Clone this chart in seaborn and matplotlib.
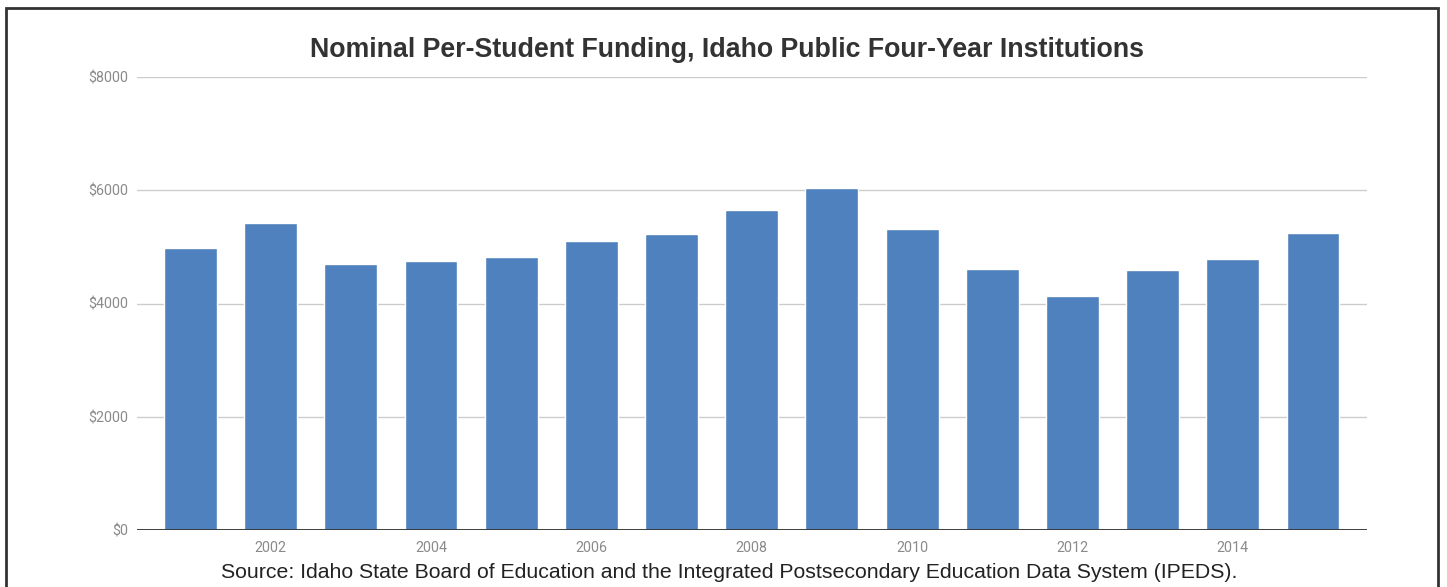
import matplotlib
matplotlib.use("Agg")
import matplotlib.pyplot as plt
import seaborn as sns
import pandas as pd
from matplotlib.patches import Rectangle

years = [str(y) for y in range(2001, 2016)]
funding = [4980, 5420, 4700, 4750, 4820, 5100, 5225, 5650, 6035, 5320, 4610, 4130, 4595, 4780, 5245]
y_ticks = [0, 2000, 4000, 6000, 8000]
y_labels = ["$0", "$2000", "$4000", "$6000", "$8000"]
title = "Nominal Per-Student Funding, Idaho Public Four-Year Institutions"
source = "Source: Idaho State Board of Education and the Integrated Postsecondary Education Data System (IPEDS)."

df = pd.DataFrame({"year": years, "funding": funding})

sns.set_theme(style="white")
plt.rcParams['font.family'] = ['Roboto', 'DejaVu Sans']

fig = plt.figure(figsize=(14.47, 5.87), dpi=100)
ax = fig.add_axes([137/1447, 57/587, 1230/1447, 453/587])

sns.barplot(data=df, x="year", y="funding", order=years, color="#4e81bd",
            saturation=1, width=0.66, ax=ax, zorder=3)

ax.set_ylim(0, 8000)
ax.set_xlim(-0.667, len(years) - 1 + 0.673)
ax.set_yticks(y_ticks)
ax.set_yticklabels(y_labels)
ax.set_xticks(range(len(years)))
ax.set_xticklabels([y if int(y) % 2 == 0 else "" for y in years])
ax.tick_params(axis="both", length=0, labelsize=10.3, labelcolor="#8a8a8a")
ax.tick_params(axis="y", pad=6)
ax.tick_params(axis="x", pad=8)
ax.set_xlabel("")
ax.set_ylabel("")
for s in ax.spines.values():
    s.set_visible(False)
ax.yaxis.grid(True, color="#cccccc", linewidth=1, zorder=0)
ax.set_axisbelow(True)
ax.axhline(0, color="#333333", linewidth=1.3, zorder=4)

fig.text(727/1447, 1 - 50/587, title, ha="center", va="center",
         fontsize=19.3, fontweight="bold", color="#333333", family=["Liberation Sans"])
fig.text(729/1447, 1 - 573/587, source, ha="center", va="center",
         fontsize=15.3, color="#222222", family=["Liberation Sans"])

frame = Rectangle((6/1447, -0.05), (1438 - 6)/1447, 1 - 8/587 + 0.05,
                  transform=fig.transFigure, fill=False, edgecolor="#333333",
                  linewidth=2, clip_on=False)
fig.patches.append(frame)

fig.savefig("out.png", dpi=100, facecolor="white")
